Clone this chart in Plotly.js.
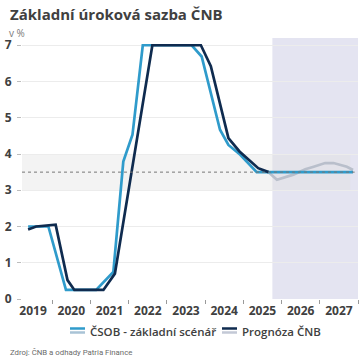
<!DOCTYPE html>
<html><head><meta charset="utf-8">
<script src="https://cdn.plot.ly/plotly-3.0.1.min.js"></script>
<style>html,body{margin:0;padding:0;background:#fff}#c{width:362px;height:364px}</style>
</head><body><div id="c"></div>
<script>
const csobX = [2019.37, 2019.90, 2020.36, 2021.15, 2021.60, 2021.86, 2022.10, 2022.37, 2023.65, 2023.91, 2024.39, 2024.61, 2024.92, 2025.35, 2027.87];
const csobY = [2.00, 2.00, 0.25, 0.25, 0.75, 3.79, 4.53, 7.00, 7.00, 6.69, 4.67, 4.25, 3.98, 3.50, 3.50];
const cnbX = [2019.37, 2019.58, 2020.09, 2020.40, 2020.58, 2021.34, 2021.64, 2022.62, 2023.89, 2024.15, 2024.61, 2024.90, 2025.39, 2025.66];
const cnbY = [1.92, 2.00, 2.05, 0.52, 0.25, 0.25, 0.70, 7.00, 7.00, 6.42, 4.44, 4.07, 3.61, 3.50];
const cnbFcX = [2025.66, 2025.88, 2026.31, 2026.62, 2026.84, 2027.14, 2027.36, 2027.71, 2027.87];
const cnbFcY = [3.50, 3.29, 3.43, 3.58, 3.65, 3.75, 3.75, 3.65, 3.56];
const years = [2019, 2020, 2021, 2022, 2023, 2024, 2025, 2026, 2027];
const yTicks = [0, 1, 2, 3, 4, 5, 6, 7];
const seriesNames = ['ČSOB - základní scénář', 'Prognóza ČNB'];
const forecastStart = 2025.76;
const bandLow = 3, bandHigh = 4, neutral = 3.5;

const font = "Open Sans, Noto Sans, sans-serif";
const cCsob = '#2f9bcb', cCnb = '#0f2b4f', cFc = '#b9bfcb';
const traces = [
  {x: cnbFcX, y: cnbFcY, mode: 'lines', line: {color: cFc, width: 2.7}, showlegend: false, hoverinfo: 'skip'},
  {x: csobX, y: csobY, mode: 'lines', name: seriesNames[0], line: {color: cCsob, width: 2.7}, showlegend: false},
  {x: cnbX, y: cnbY, mode: 'lines', name: seriesNames[1], line: {color: cCnb, width: 2.7}, showlegend: false}
];
// paper coordinate helpers (plot area: px 22..358 horizontally, 38..299 vertically)
const px = v => (v - 22) / 336;
const py = v => (299 - v) / 261;
function legendIcon(x0, top, bottom) {
  return [
    {type: 'line', xref: 'paper', yref: 'paper', x0: px(x0), x1: px(x0 + 15), y0: py(328.5), y1: py(328.5), line: {color: top, width: 2.5}},
    {type: 'line', xref: 'paper', yref: 'paper', x0: px(x0), x1: px(x0 + 15), y0: py(332.5), y1: py(332.5), line: {color: bottom, width: 2.5}}
  ];
}
const layout = {
  width: 362, height: 364,
  margin: {l: 22, r: 4, t: 38, b: 65},
  paper_bgcolor: '#fff', plot_bgcolor: '#fff',
  font: {family: font, color: '#404040'},
  showlegend: false,
  title: {
    text: 'v %', xref: 'container', yref: 'container',
    x: 9 / 362, xanchor: 'left', y: 1 - 33 / 364, yanchor: 'middle',
    font: {size: 10, color: '#7a7a7a'}
  },
  xaxis: {
    range: [2019.21, 2028.0], showgrid: false, zeroline: false, showline: false,
    tickmode: 'array', tickvals: years.map(y => y + 0.5), ticktext: years.map(String),
    ticks: '', tickfont: {size: 12, color: '#404040', weight: 700}, ticklabelstandoff: 3,
    minor: {tick0: 2019, dtick: 1, ticks: 'outside', ticklen: 4, tickcolor: '#9a9a9a', tickwidth: 1, showgrid: false},
    fixedrange: true
  },
  yaxis: {
    range: [0, 7.2], tickmode: 'array', tickvals: yTicks, ticks: 'outside', ticklen: 4, tickcolor: '#bdbdbd',
    showgrid: true, gridcolor: '#ececec', gridwidth: 1, zeroline: false, showline: false,
    tickfont: {size: 12, color: '#404040', weight: 700}, ticklabelstandoff: 3, fixedrange: true
  },
  shapes: [
    {type: 'rect', xref: 'x', yref: 'paper', x0: forecastStart, x1: 2028.0, y0: 0, y1: 1, fillcolor: '#e4e4f1', line: {width: 0}, layer: 'below'},
    {type: 'rect', xref: 'paper', yref: 'y', x0: 0, x1: 0.977, y0: bandLow, y1: bandHigh, fillcolor: 'rgba(225,225,225,0.4)', line: {width: 0}, layer: 'below'},
    {type: 'line', xref: 'paper', yref: 'y', x0: 0, x1: 0.99, y0: neutral, y1: neutral, line: {color: '#777', width: 1, dash: '3px,3px'}, layer: 'above'},
    ...legendIcon(70, cCsob, '#a9c3d6'),
    ...legendIcon(222, cCnb, '#c3c9d6')
  ],
  annotations: [
    {text: 'Základní úroková sazba ČNB', xref: 'paper', yref: 'paper', x: px(8), y: py(14), xanchor: 'left', yanchor: 'middle', showarrow: false, font: {size: 15, color: '#404040', weight: 700}},
    {text: seriesNames[0], xref: 'paper', yref: 'paper', x: px(88), y: py(331), xanchor: 'left', yanchor: 'middle', showarrow: false, font: {size: 11.5, color: '#404040', weight: 600}},
    {text: seriesNames[1], xref: 'paper', yref: 'paper', x: px(240), y: py(331), xanchor: 'left', yanchor: 'middle', showarrow: false, font: {size: 11.5, color: '#404040', weight: 600}},
    {text: 'Zdroj: ČNB a odhady Patria Finance', xref: 'paper', yref: 'paper', x: px(8), y: py(352), xanchor: 'left', yanchor: 'middle', showarrow: false, font: {family: 'Roboto, sans-serif', size: 7.8, color: '#6a6a6a'}}
  ]
};
Plotly.newPlot('c', traces, layout, {displayModeBar: false, staticPlot: true});
</script></body></html>
